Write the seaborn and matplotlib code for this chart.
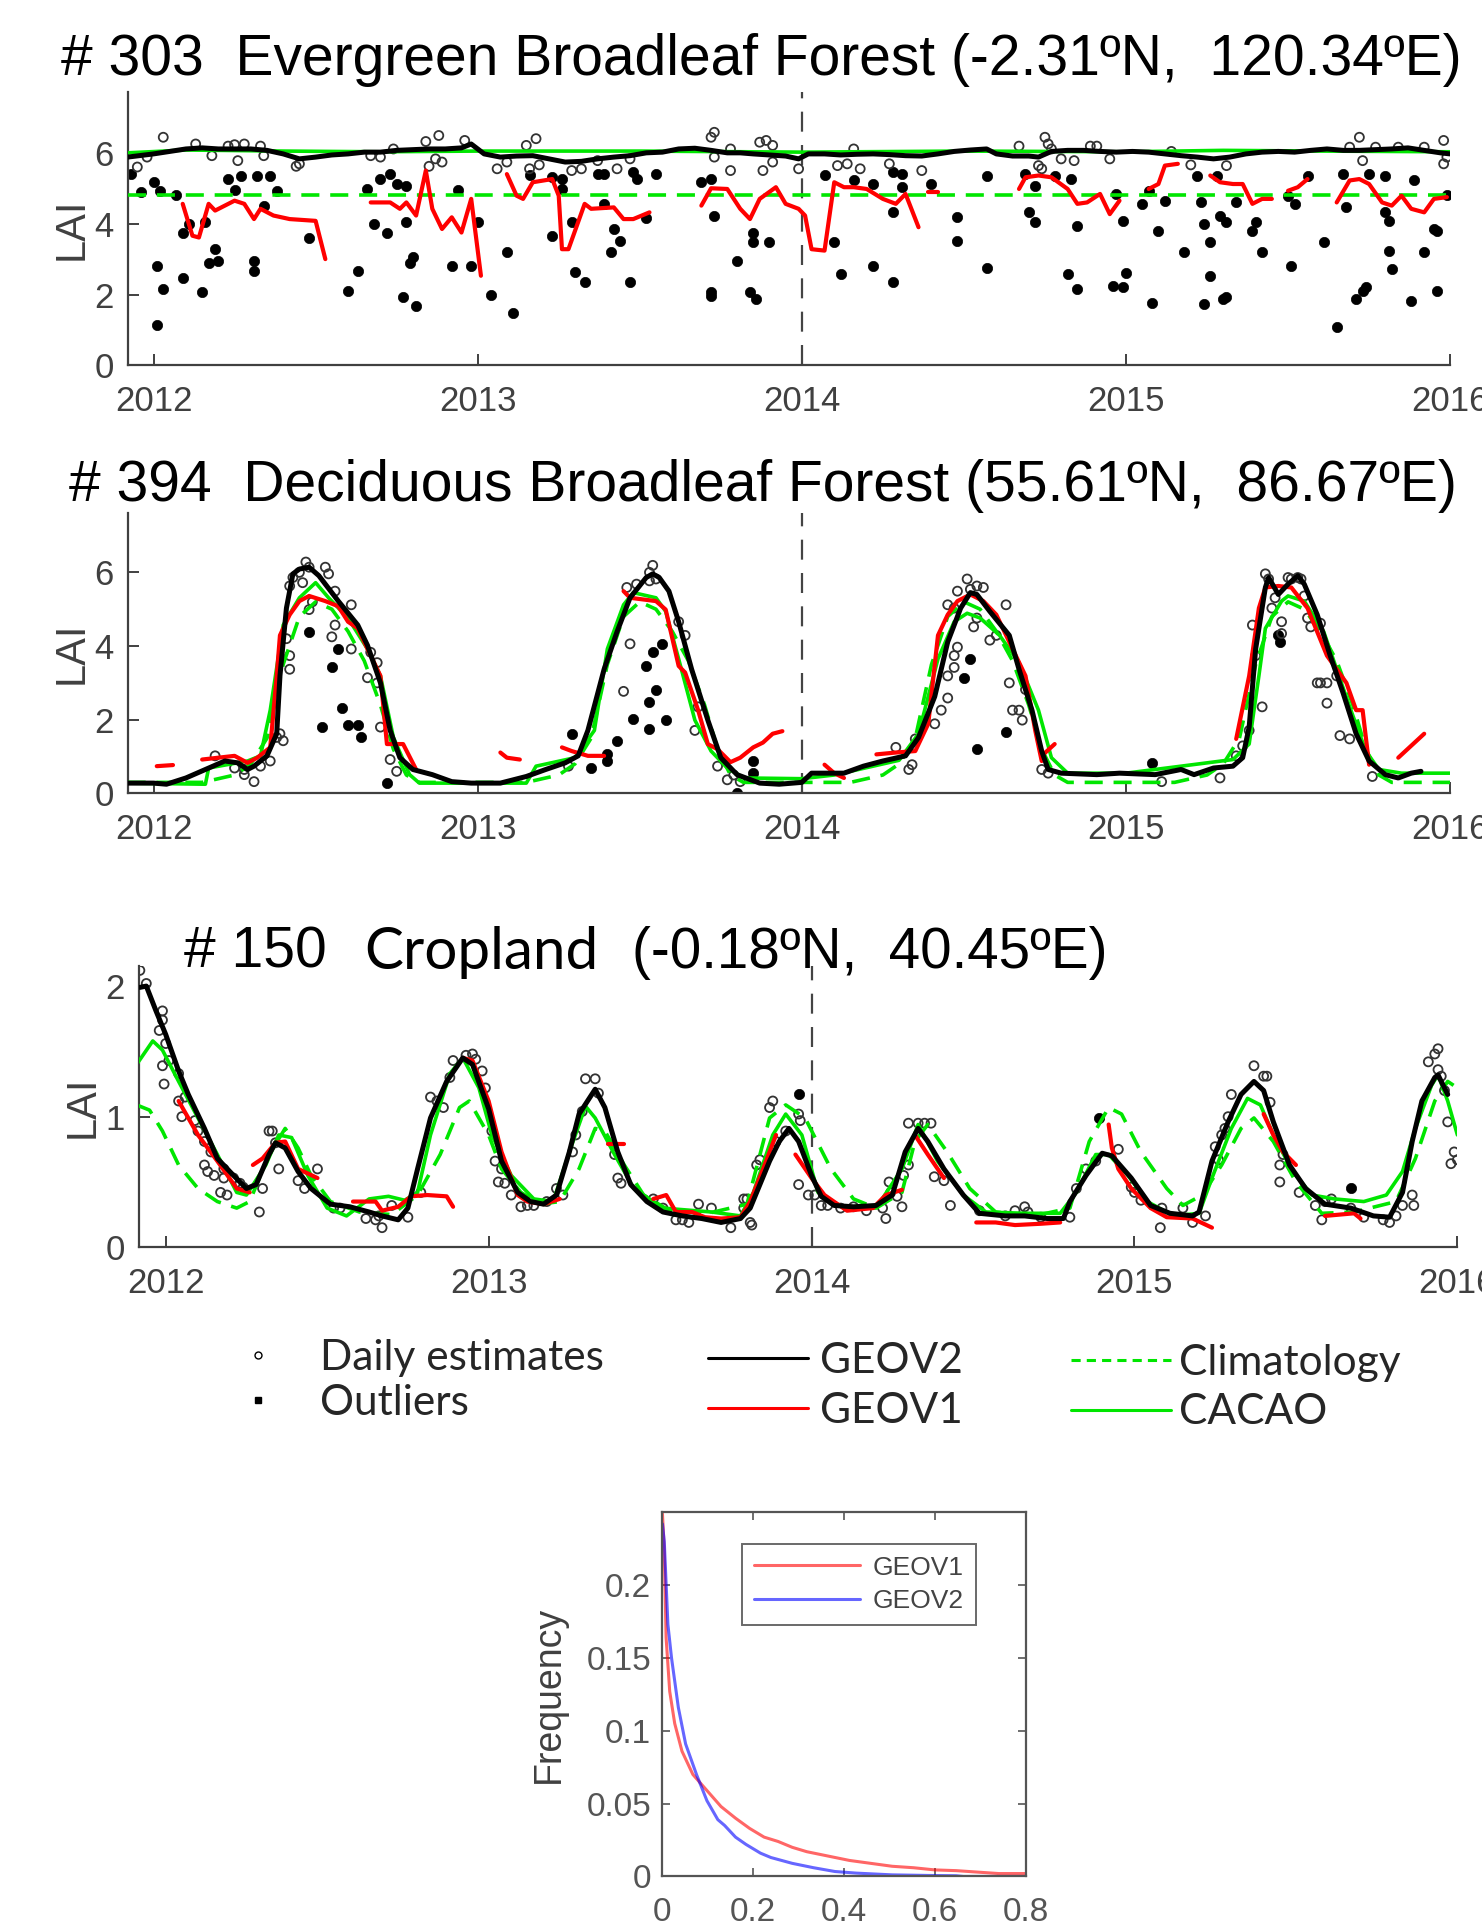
import numpy as np
import pandas as pd
import matplotlib
matplotlib.use("Agg")
import matplotlib.pyplot as plt
import seaborn as sns
from matplotlib.lines import Line2D

# ------------------------------------------------------------------ DATA
years = [2012, 2013, 2014, 2015, 2016]
year_labels = ["2012", "2013", "2014", "2015", "2016"]

# ---------------- Panel 1 : #303 Evergreen Broadleaf Forest
p1_geov2_x = [2011.92, 2012.0, 2012.1, 2012.15, 2012.2, 2012.25, 2012.3, 2012.35, 2012.4, 2012.45,
              2012.5, 2012.55, 2012.6, 2012.65, 2012.7, 2012.75, 2012.8, 2012.85, 2012.9, 2012.95,
              2012.98, 2013.02, 2013.07, 2013.12, 2013.17, 2013.22, 2013.27, 2013.32, 2013.37, 2013.42,
              2013.47, 2013.52, 2013.57, 2013.62, 2013.67, 2013.72, 2013.77, 2013.81, 2013.85, 2013.9,
              2013.95, 2013.99, 2014.02, 2014.07, 2014.12, 2014.17, 2014.22, 2014.27, 2014.32, 2014.37,
              2014.42, 2014.47, 2014.52, 2014.57, 2014.6, 2014.65, 2014.7, 2014.73, 2014.77, 2014.82,
              2014.87, 2014.92, 2014.97, 2015.02, 2015.07, 2015.12, 2015.17, 2015.22, 2015.27, 2015.32,
              2015.37, 2015.42, 2015.47, 2015.52, 2015.57, 2015.62, 2015.67, 2015.72, 2015.77, 2015.82,
              2015.87, 2015.92, 2015.97, 2016.0]
p1_geov2_y = [5.88, 5.97, 6.11, 6.14, 6.11, 6.11, 6.11, 6.07, 5.97, 5.83,
              5.88, 5.94, 5.97, 6.02, 6.02, 6.07, 6.09, 6.11, 6.11, 6.14,
              6.25, 5.97, 5.88, 5.91, 5.92, 5.83, 5.74, 5.76, 5.83, 5.88,
              5.92, 6.0, 6.02, 6.11, 6.13, 6.07, 6.0, 6.0, 5.97, 5.94,
              5.91, 5.83, 5.97, 5.97, 5.94, 5.96, 5.97, 5.95, 5.92, 5.91,
              5.97, 6.04, 6.08, 6.11, 5.97, 5.91, 5.91, 5.88, 6.04, 6.07,
              6.07, 6.04, 6.02, 6.04, 6.02, 5.97, 5.92, 5.88, 5.83, 5.88,
              5.97, 6.02, 6.04, 6.02, 6.07, 6.11, 6.07, 6.07, 6.09, 6.11,
              6.14, 6.07, 6.0, 5.97]
p1_cacao_x = [2011.92, 2012.1, 2012.4, 2012.7, 2013.0, 2013.5, 2014.0, 2014.5, 2015.0, 2015.3, 2015.6, 2016.0]
p1_cacao_y = [6.0, 6.08, 6.05, 6.03, 6.05, 6.05, 6.02, 6.05, 6.03, 6.07, 6.05, 6.03]
p1_clim_x = [2011.92, 2016.0]
p1_clim_y = [4.8, 4.8]
p1_geov1_segs = [
    [(2012.09, 4.56), (2012.12, 3.66), (2012.14, 3.61), (2012.17, 4.56), (2012.19, 4.37), (2012.25, 4.65),
     (2012.28, 4.56), (2012.31, 4.13), (2012.33, 4.42), (2012.37, 4.23), (2012.42, 4.13), (2012.50, 4.08),
     (2012.53, 3.0)],
    [(2012.67, 4.6), (2012.73, 4.6), (2012.76, 4.42), (2012.78, 4.6), (2012.81, 4.23), (2012.84, 5.5),
     (2012.86, 4.42), (2012.89, 3.85), (2012.92, 4.18), (2012.95, 3.75), (2012.98, 4.7), (2013.01, 2.53)],
    [(2013.09, 5.4), (2013.12, 4.79), (2013.14, 4.7), (2013.17, 5.17), (2013.23, 5.26), (2013.25, 4.79),
     (2013.26, 3.28), (2013.28, 3.28), (2013.33, 4.56), (2013.35, 4.42), (2013.42, 4.46), (2013.45, 4.13),
     (2013.48, 4.13), (2013.53, 4.32)],
    [(2013.69, 4.51), (2013.72, 5.0), (2013.77, 4.98), (2013.81, 4.42), (2013.84, 4.13), (2013.87, 4.7),
     (2013.92, 5.03), (2013.95, 4.56), (2013.99, 4.42), (2014.01, 4.23), (2014.03, 3.28), (2014.07, 3.24),
     (2014.10, 5.17), (2014.13, 5.03), (2014.16, 5.03), (2014.20, 4.98), (2014.25, 4.7), (2014.29, 4.56),
     (2014.32, 4.84), (2014.36, 3.9)],
    [(2014.39, 4.89), (2014.42, 4.89)],
    [(2014.67, 4.98), (2014.69, 5.31), (2014.73, 5.36), (2014.77, 5.31), (2014.82, 4.98), (2014.85, 4.56),
     (2014.88, 4.6), (2014.92, 4.84), (2014.95, 4.27), (2014.98, 4.65)],
    [(2015.07, 4.98), (2015.10, 5.12), (2015.12, 5.64), (2015.16, 5.69)],
    [(2015.26, 5.36), (2015.29, 5.17), (2015.33, 5.12), (2015.36, 5.12), (2015.39, 4.56), (2015.42, 4.7),
     (2015.45, 4.7)],
    [(2015.50, 4.93), (2015.53, 5.03), (2015.56, 5.26)],
    [(2015.65, 4.6), (2015.69, 5.22), (2015.72, 5.26), (2015.75, 5.12), (2015.79, 4.6), (2015.82, 4.51),
     (2015.85, 4.79), (2015.88, 4.42), (2015.92, 4.32), (2015.95, 4.7), (2015.99, 4.75)],
]
p1_daily_x = [2011.95, 2011.98, 2012.03, 2012.13, 2012.18, 2012.23, 2012.25, 2012.26, 2012.28, 2012.33,
              2012.34, 2012.44, 2012.45, 2012.67, 2012.70, 2012.74, 2012.84, 2012.88, 2012.85, 2012.87,
              2012.89, 2012.96, 2013.06, 2013.09, 2013.15, 2013.18, 2013.16, 2013.19, 2013.29, 2013.32,
              2013.37, 2013.43, 2013.47, 2013.72, 2013.73, 2013.73, 2013.78, 2013.78, 2013.87, 2013.89,
              2013.91, 2013.91, 2013.88, 2013.99, 2014.11, 2014.14, 2014.16, 2014.18, 2014.27, 2014.37,
              2014.67, 2014.75, 2014.76, 2014.77, 2014.73, 2014.74, 2014.80, 2014.84, 2014.89, 2014.91,
              2014.95, 2015.14, 2015.20, 2015.31, 2015.69, 2015.72, 2015.73, 2015.77, 2015.84, 2015.92,
              2015.98, 2015.98, 2015.99]
p1_daily_y = [5.6, 5.88, 6.44, 6.25, 5.92, 6.19, 6.23, 5.78, 6.25, 6.19,
              5.92, 5.62, 5.69, 5.92, 5.88, 6.11, 6.32, 6.49, 5.62, 5.83,
              5.74, 6.35, 5.55, 5.74, 6.21, 6.4, 5.55, 5.66, 5.5, 5.55,
              5.78, 5.55, 5.83, 6.44, 6.58, 5.88, 5.5, 6.11, 6.3, 6.35,
              6.21, 5.74, 5.5, 5.55, 5.64, 5.69, 6.11, 5.55, 5.69, 5.5,
              6.19, 6.44, 6.25, 6.11, 5.64, 5.55, 5.83, 5.78, 6.19, 6.19,
              5.83, 6.04, 5.66, 5.64, 6.16, 6.44, 5.78, 6.16, 6.16, 6.16,
              6.35, 5.69, 5.88]
p1_out_x = [2011.93, 2011.96, 2012.0, 2012.02, 2012.07, 2012.01, 2012.03, 2012.01, 2012.09, 2012.11,
            2012.09, 2012.15, 2012.16, 2012.17, 2012.19, 2012.20, 2012.23, 2012.25, 2012.27, 2012.31,
            2012.31, 2012.32, 2012.34, 2012.36, 2012.38, 2012.48, 2012.60, 2012.63, 2012.66, 2012.68,
            2012.70, 2012.72, 2012.73, 2012.75, 2012.77, 2012.78, 2012.78, 2012.79, 2012.80, 2012.81,
            2012.92, 2012.94, 2012.98, 2013.0, 2013.04, 2013.09, 2013.11, 2013.16, 2013.23, 2013.23,
            2013.26, 2013.26, 2013.29, 2013.30, 2013.33, 2013.37, 2013.39, 2013.39, 2013.41, 2013.42,
            2013.44, 2013.47, 2013.48, 2013.49, 2013.52, 2013.55, 2013.69, 2013.72, 2013.73, 2013.72,
            2013.72, 2013.80, 2013.85, 2013.85, 2013.90, 2013.84, 2013.86, 2014.07, 2014.10, 2014.12,
            2014.16, 2014.22, 2014.22, 2014.28, 2014.28, 2014.28, 2014.31, 2014.31, 2014.40, 2014.48,
            2014.48, 2014.57, 2014.57, 2014.69, 2014.70, 2014.72, 2014.72, 2014.78, 2014.83, 2014.82,
            2014.85, 2014.85, 2014.96, 2014.97, 2014.99, 2014.99, 2015.0, 2015.05, 2015.07, 2015.08,
            2015.10, 2015.12, 2015.18, 2015.22, 2015.23, 2015.24, 2015.24, 2015.26, 2015.26, 2015.28,
            2015.29, 2015.31, 2015.30, 2015.31, 2015.34, 2015.39, 2015.40, 2015.42, 2015.51, 2015.52,
            2015.50, 2015.56, 2015.61, 2015.65, 2015.67, 2015.68, 2015.71, 2015.74, 2015.73, 2015.75,
            2015.80, 2015.80, 2015.81, 2015.81, 2015.82, 2015.88, 2015.89, 2015.92, 2015.95, 2015.96,
            2015.96, 2015.99]
p1_out_y = [5.41, 4.9, 5.17, 4.93, 4.81, 2.81, 2.17, 1.13, 2.48, 3.99,
            3.75, 2.08, 4.04, 2.9, 3.28, 2.95, 5.26, 4.96, 5.34, 2.95,
            2.67, 5.34, 4.51, 5.34, 4.93, 3.6, 2.1, 2.67, 4.98, 3.99,
            5.26, 3.75, 5.4, 5.12, 1.92, 5.07, 4.04, 2.9, 3.05, 1.68,
            2.81, 4.96, 2.81, 4.04, 2.0, 3.19, 1.49, 5.38, 3.66, 5.31,
            4.98, 5.26, 4.04, 2.64, 2.36, 5.4, 5.4, 4.56, 3.19, 3.85,
            3.52, 2.36, 5.45, 5.26, 4.15, 5.4, 5.17, 5.26, 4.23, 2.06,
            1.96, 2.95, 3.75, 3.47, 3.47, 2.06, 1.87, 5.38, 3.47, 2.58,
            5.22, 2.81, 5.12, 4.32, 2.34, 5.45, 5.4, 5.03, 5.12, 4.18,
            3.52, 5.36, 2.76, 5.4, 4.32, 4.04, 5.07, 5.36, 5.26, 2.58,
            3.94, 2.15, 2.25, 4.84, 4.08, 2.2, 2.62, 4.56, 4.93, 1.77,
            3.8, 4.65, 3.19, 5.36, 4.6, 1.73, 3.99, 2.53, 3.47, 5.36,
            4.23, 4.04, 1.87, 1.92, 4.6, 3.8, 4.04, 3.21, 2.81, 4.56,
            4.79, 5.36, 3.47, 1.07, 5.4, 4.46, 1.87, 2.2, 2.1, 5.4,
            5.36, 4.32, 4.08, 3.24, 2.72, 1.82, 5.22, 3.19, 3.85, 3.8,
            2.1, 4.81]

# ---------------- Panel 2 : #394 Deciduous Broadleaf Forest
p2_geov2_x = [2011.92, 2012.0, 2012.04, 2012.10, 2012.16, 2012.22, 2012.26, 2012.29, 2012.31, 2012.35,
              2012.38, 2012.39, 2012.41, 2012.43, 2012.45, 2012.48, 2012.51, 2012.57, 2012.63, 2012.66,
              2012.70, 2012.73, 2012.76, 2012.80, 2012.86, 2012.92, 2012.98, 2013.07, 2013.15, 2013.21,
              2013.27, 2013.31, 2013.34, 2013.39, 2013.43, 2013.47, 2013.52, 2013.54, 2013.56, 2013.59,
              2013.62, 2013.66, 2013.71, 2013.75, 2013.80, 2013.87, 2013.93, 2014.0, 2014.03, 2014.13,
              2014.19, 2014.25, 2014.32, 2014.36, 2014.41, 2014.45, 2014.49, 2014.52, 2014.54, 2014.58,
              2014.64, 2014.67, 2014.71, 2014.74, 2014.76, 2014.80, 2014.91, 2014.98, 2015.09, 2015.17,
              2015.21, 2015.27, 2015.33, 2015.36, 2015.38, 2015.40, 2015.43, 2015.44, 2015.47, 2015.50,
              2015.53, 2015.55, 2015.59, 2015.63, 2015.67, 2015.71, 2015.75, 2015.80, 2015.84, 2015.88,
              2015.91]
p2_geov2_y = [0.28, 0.28, 0.25, 0.42, 0.65, 0.88, 0.83, 0.65, 0.74, 1.02,
              1.62, 3.19, 5.03, 5.96, 6.09, 6.14, 5.91, 5.22, 4.57, 4.02,
              3.0, 1.71, 0.97, 0.65, 0.51, 0.32, 0.28, 0.28, 0.46, 0.65,
              0.83, 1.02, 1.71, 3.37, 4.39, 5.31, 5.86, 5.96, 5.86, 5.49,
              4.66, 3.37, 1.99, 0.97, 0.51, 0.28, 0.25, 0.30, 0.55, 0.55,
              0.74, 0.88, 1.02, 1.52, 2.63, 4.11, 5.03, 5.45, 5.40, 4.94,
              4.29, 3.37, 2.26, 1.15, 0.65, 0.55, 0.51, 0.55, 0.51, 0.65,
              0.51, 0.69, 0.74, 0.97, 1.80, 3.92, 5.59, 5.86, 5.40, 5.68,
              5.91, 5.68, 4.85, 3.74, 2.72, 1.62, 0.88, 0.51, 0.42, 0.55,
              0.60]
p2_cacao_x = [2011.92, 2012.16, 2012.17, 2012.29, 2012.33, 2012.36, 2012.40, 2012.45, 2012.50, 2012.54,
              2012.60, 2012.66, 2012.70, 2012.74, 2012.79, 2012.82, 2013.15, 2013.18, 2013.30, 2013.36,
              2013.40, 2013.45, 2013.48, 2013.55, 2013.58, 2013.62, 2013.67, 2013.72, 2013.77, 2013.82,
              2014.0, 2014.1, 2014.2, 2014.3, 2014.36, 2014.42, 2014.47, 2014.51, 2014.55, 2014.61,
              2014.67, 2014.73, 2014.77, 2014.82, 2015.0, 2015.17, 2015.33, 2015.38, 2015.41, 2015.43,
              2015.48, 2015.50, 2015.55, 2015.61, 2015.65, 2015.69, 2015.74, 2015.78, 2015.85, 2016.0]
p2_cacao_y = [0.28, 0.25, 0.69, 0.88, 1.02, 2.26, 4.57, 5.31, 5.72, 5.31,
              4.76, 3.92, 3.19, 1.52, 0.51, 0.28, 0.28, 0.74, 0.97, 1.71,
              3.92, 5.12, 5.45, 5.31, 4.94, 3.65, 1.99, 1.15, 0.69, 0.42,
              0.40, 0.50, 0.70, 0.90, 1.62, 3.65, 4.66, 4.89, 4.76, 4.29,
              3.55, 2.26, 0.97, 0.55, 0.55, 0.74, 0.92, 1.34, 3.19, 4.48,
              5.22, 5.36, 5.22, 4.39, 3.37, 2.35, 1.15, 0.65, 0.55, 0.55]
p2_clim_x = [2011.92, 2012.15, 2012.25, 2012.30, 2012.35, 2012.40, 2012.45, 2012.50, 2012.55, 2012.60,
             2012.65, 2012.70, 2012.74, 2012.78, 2012.82, 2013.15, 2013.25, 2013.30, 2013.35, 2013.40,
             2013.45, 2013.50, 2013.55, 2013.60, 2013.65, 2013.70, 2013.74, 2013.78, 2013.82, 2014.15,
             2014.25, 2014.30, 2014.35, 2014.40, 2014.45, 2014.50, 2014.55, 2014.60, 2014.65, 2014.70,
             2014.74, 2014.78, 2014.82, 2015.15, 2015.25, 2015.30, 2015.35, 2015.40, 2015.45, 2015.50,
             2015.55, 2015.60, 2015.65, 2015.70, 2015.74, 2015.78, 2015.82, 2016.0]
p2_clim_y = [0.30, 0.30, 0.50, 0.80, 1.50, 3.50, 4.80, 5.20, 5.00, 4.40,
             3.60, 2.40, 1.20, 0.50, 0.30, 0.30, 0.50, 0.80, 1.50, 3.50,
             4.80, 5.20, 5.00, 4.40, 3.60, 2.40, 1.20, 0.50, 0.30, 0.30,
             0.50, 0.80, 1.50, 3.50, 4.80, 5.20, 5.00, 4.40, 3.60, 2.40,
             1.20, 0.50, 0.30, 0.30, 0.50, 0.80, 1.50, 3.50, 4.80, 5.20,
             5.00, 4.40, 3.60, 2.40, 1.20, 0.50, 0.30, 0.30]
p2_geov1_segs = [
    [(2012.01, 0.74), (2012.06, 0.77)],
    [(2012.15, 0.92), (2012.20, 0.97), (2012.25, 1.02), (2012.29, 0.83), (2012.32, 0.97), (2012.36, 1.25),
     (2012.38, 3.19), (2012.39, 4.29), (2012.42, 4.85), (2012.45, 5.22), (2012.48, 5.36), (2012.53, 5.22),
     (2012.57, 5.08), (2012.60, 4.66), (2012.63, 4.48), (2012.67, 3.74), (2012.70, 3.19), (2012.72, 1.34),
     (2012.77, 1.34), (2012.81, 0.65)],
    [(2013.07, 1.11), (2013.09, 0.97), (2013.13, 0.92)],
    [(2013.26, 1.25), (2013.29, 1.15), (2013.34, 1.02), (2013.39, 1.02)],
    [(2013.45, 5.49), (2013.47, 5.31), (2013.55, 5.22), (2013.58, 4.99), (2013.62, 3.46), (2013.64, 3.28),
     (2013.68, 2.26), (2013.71, 1.34), (2013.74, 1.20), (2013.78, 0.85), (2013.81, 0.97), (2013.85, 1.25),
     (2013.88, 1.38), (2013.91, 1.62), (2013.94, 1.69)],
    [(2014.07, 0.78), (2014.10, 0.55), (2014.13, 0.42)],
    [(2014.23, 1.06), (2014.29, 1.11), (2014.35, 1.15), (2014.39, 1.89), (2014.42, 4.29), (2014.45, 4.85),
     (2014.48, 5.22), (2014.52, 5.40), (2014.56, 5.22), (2014.60, 4.85), (2014.64, 4.11), (2014.69, 3.19),
     (2014.72, 1.71), (2014.74, 0.88)],
    [(2014.75, 1.10), (2014.78, 1.34)],
    [(2015.34, 1.48), (2015.38, 3.19), (2015.41, 5.03), (2015.43, 5.59), (2015.47, 5.63), (2015.51, 5.59),
     (2015.56, 5.03), (2015.62, 3.74), (2015.68, 3.0), (2015.71, 2.26), (2015.73, 2.26), (2015.75, 0.78)],
    [(2015.84, 0.97), (2015.92, 1.62)],
]
p2_daily_x = [2012.19, 2012.25, 2012.28, 2012.28, 2012.31, 2012.33, 2012.36, 2012.38, 2012.40, 2012.39,
              2012.42, 2012.42, 2012.41, 2012.42, 2012.43, 2012.45, 2012.47, 2012.48, 2012.46, 2012.48,
              2012.49, 2012.53, 2012.54, 2012.56, 2012.55, 2012.56, 2012.61, 2012.61, 2012.67, 2012.69,
              2012.66, 2012.69, 2012.70, 2012.73, 2012.75, 2013.28, 2013.45, 2013.47, 2013.46, 2013.49,
              2013.53, 2013.54, 2013.53, 2013.55, 2013.62, 2013.64, 2013.67, 2013.68, 2013.74, 2013.77,
              2013.79, 2013.81, 2014.33, 2014.34, 2014.29, 2014.35, 2014.41, 2014.43, 2014.45, 2014.45,
              2014.47, 2014.47, 2014.48, 2014.45, 2014.47, 2014.48, 2014.51, 2014.52, 2014.54, 2014.56,
              2014.53, 2014.54, 2014.58, 2014.63, 2014.60, 2014.64, 2014.65, 2014.67, 2014.68, 2014.69,
              2014.74, 2014.76, 2015.11, 2015.29, 2015.34, 2015.36, 2015.38, 2015.39, 2015.40, 2015.42,
              2015.43, 2015.44, 2015.45, 2015.46, 2015.48, 2015.48, 2015.50, 2015.51, 2015.53, 2015.54,
              2015.55, 2015.56, 2015.57, 2015.59, 2015.60, 2015.62, 2015.62, 2015.60, 2015.65, 2015.66,
              2015.69, 2015.76]
p2_daily_y = [1.02, 0.69, 0.51, 0.65, 0.32, 0.74, 0.88, 1.52, 1.43, 1.62,
              3.37, 3.74, 4.20, 5.63, 5.86, 6.00, 6.28, 6.14, 5.72, 4.99,
              5.20, 6.14, 5.96, 5.49, 4.25, 4.57, 5.12, 3.92, 3.83, 3.55,
              3.14, 3.00, 1.80, 0.92, 0.60, 0.74, 2.77, 4.06, 5.59, 5.68,
              6.00, 6.19, 5.77, 5.82, 4.66, 4.29, 1.71, 2.35, 0.74, 0.37,
              0.50, 0.32, 0.65, 0.78, 1.25, 1.48, 1.89, 2.26, 2.59, 3.19,
              3.42, 3.74, 3.97, 5.12, 5.03, 5.49, 5.82, 5.54, 5.63, 5.59,
              4.52, 4.76, 4.16, 5.12, 4.29, 3.00, 2.26, 2.26, 1.99, 2.82,
              0.65, 0.55, 0.32, 0.42, 1.02, 1.29, 1.71, 4.57, 3.74, 2.35,
              5.96, 5.82, 5.03, 5.31, 4.66, 4.34, 5.86, 5.82, 5.86, 5.82,
              5.36, 4.76, 4.52, 3.00, 3.00, 3.00, 2.45, 4.62, 3.19, 1.57,
              1.48, 0.46]
p2_out_x = [2012.48, 2012.55, 2012.57, 2012.58, 2012.60, 2012.63, 2012.64, 2012.52, 2012.72, 2013.29,
            2013.35, 2013.40, 2013.40, 2013.43, 2013.48, 2013.52, 2013.53, 2013.53, 2013.55, 2013.54,
            2013.57, 2013.58, 2013.80, 2013.85, 2013.85, 2014.52, 2014.50, 2014.63, 2014.54, 2015.08,
            2015.47, 2015.475]
p2_out_y = [4.39, 3.42, 3.92, 2.31, 1.85, 1.85, 1.52, 1.80, 0.28, 1.62,
            0.69, 0.88, 1.06, 1.43, 2.03, 3.46, 1.75, 2.49, 2.82, 3.83,
            4.06, 1.99, 0.02, 0.88, 0.55, 3.65, 3.14, 1.66, 1.20, 0.83,
            4.29, 4.11]

# ---------------- Panel 3 : #150 Cropland
p3_geov2_x = [2011.92, 2011.94, 2011.97, 2012.0, 2012.04, 2012.07, 2012.12, 2012.16, 2012.21, 2012.25,
              2012.28, 2012.32, 2012.34, 2012.37, 2012.41, 2012.45, 2012.51, 2012.57, 2012.63, 2012.67,
              2012.72, 2012.75, 2012.78, 2012.82, 2012.87, 2012.92, 2012.95, 2013.0, 2013.04, 2013.09,
              2013.13, 2013.17, 2013.21, 2013.25, 2013.28, 2013.33, 2013.36, 2013.40, 2013.44, 2013.49,
              2013.54, 2013.60, 2013.66, 2013.72, 2013.78, 2013.81, 2013.87, 2013.90, 2013.93, 2013.96,
              2014.0, 2014.03, 2014.07, 2014.13, 2014.20, 2014.25, 2014.29, 2014.33, 2014.36, 2014.41,
              2014.47, 2014.52, 2014.60, 2014.66, 2014.73, 2014.78, 2014.80, 2014.85, 2014.90, 2014.93,
              2014.99, 2015.05, 2015.11, 2015.18, 2015.20, 2015.24, 2015.29, 2015.33, 2015.37, 2015.40,
              2015.43, 2015.48, 2015.53, 2015.59, 2015.67, 2015.74, 2015.79, 2015.83, 2015.86, 2015.89,
              2015.93, 2015.94, 2015.97]
p3_geov2_y = [1.99, 2.0, 1.81, 1.63, 1.35, 1.17, 0.91, 0.68, 0.55, 0.45,
              0.48, 0.71, 0.80, 0.76, 0.58, 0.45, 0.33, 0.31, 0.27, 0.24,
              0.21, 0.30, 0.60, 0.99, 1.27, 1.45, 1.40, 1.06, 0.66, 0.42,
              0.35, 0.33, 0.40, 0.73, 1.02, 1.21, 1.07, 0.73, 0.48, 0.35,
              0.27, 0.24, 0.22, 0.19, 0.22, 0.30, 0.66, 0.81, 0.91, 0.81,
              0.55, 0.39, 0.32, 0.31, 0.32, 0.40, 0.73, 0.91, 0.81, 0.60,
              0.40, 0.26, 0.24, 0.24, 0.22, 0.22, 0.35, 0.55, 0.72, 0.70,
              0.53, 0.32, 0.26, 0.24, 0.27, 0.66, 0.96, 1.17, 1.27, 1.20,
              0.96, 0.63, 0.45, 0.33, 0.30, 0.24, 0.23, 0.42, 0.81, 1.12,
              1.30, 1.32, 1.17]
p3_cacao_x = [2011.91, 2011.96, 2011.99, 2012.04, 2012.10, 2012.16, 2012.22, 2012.25, 2012.31, 2012.35,
              2012.39, 2012.44, 2012.50, 2012.56, 2012.63, 2012.69, 2012.74, 2012.78, 2012.82, 2012.88,
              2012.92, 2012.97, 2013.01, 2013.07, 2013.14, 2013.20, 2013.25, 2013.30, 2013.33, 2013.39,
              2013.45, 2013.54, 2013.69, 2013.78, 2013.82, 2013.88, 2013.92, 2013.97, 2014.02, 2014.10,
              2014.20, 2014.28, 2014.33, 2014.39, 2014.47, 2014.54, 2014.66, 2014.77, 2014.82, 2014.88,
              2014.92, 2014.98, 2015.04, 2015.12, 2015.20, 2015.24, 2015.30, 2015.35, 2015.39, 2015.43,
              2015.49, 2015.55, 2015.62, 2015.71, 2015.78, 2015.83, 2015.87, 2015.92, 2015.94, 2015.97,
              2016.0]
p3_cacao_y = [1.40, 1.58, 1.51, 1.27, 0.99, 0.71, 0.42, 0.40, 0.63, 0.86,
              0.84, 0.55, 0.30, 0.24, 0.37, 0.39, 0.36, 0.42, 0.86, 1.33,
              1.45, 1.22, 0.86, 0.55, 0.37, 0.35, 0.73, 1.08, 0.99, 0.71,
              0.45, 0.30, 0.27, 0.24, 0.42, 0.86, 1.02, 0.86, 0.42, 0.30,
              0.30, 0.60, 0.94, 0.66, 0.40, 0.27, 0.26, 0.26, 0.42, 0.71,
              0.71, 0.55, 0.35, 0.24, 0.26, 0.53, 0.91, 1.14, 1.09, 0.86,
              0.58, 0.40, 0.37, 0.35, 0.40, 0.58, 0.91, 1.24, 1.32, 1.12,
              0.86]
p3_clim_x = [2011.91, 2011.95, 2011.99, 2012.04, 2012.10, 2012.16, 2012.22, 2012.26, 2012.32, 2012.37,
             2012.41, 2012.45, 2012.51, 2012.60, 2012.70, 2012.78, 2012.85, 2012.91, 2012.94, 2013.0,
             2013.04, 2013.10, 2013.16, 2013.22, 2013.28, 2013.33, 2013.36, 2013.42, 2013.48, 2013.56,
             2013.68, 2013.80, 2013.87, 2013.92, 2013.98, 2014.06, 2014.13, 2014.20, 2014.28, 2014.32,
             2014.36, 2014.42, 2014.49, 2014.57, 2014.69, 2014.80, 2014.86, 2014.92, 2014.96, 2015.02,
             2015.10, 2015.15, 2015.21, 2015.27, 2015.33, 2015.37, 2015.43, 2015.50, 2015.58, 2015.68,
             2015.81, 2015.87, 2015.93, 2015.97, 2016.0]
p3_clim_y = [1.09, 1.05, 0.89, 0.63, 0.45, 0.35, 0.30, 0.35, 0.71, 0.91,
             0.76, 0.55, 0.35, 0.27, 0.25, 0.40, 0.71, 1.07, 1.12, 0.86,
             0.60, 0.42, 0.33, 0.35, 0.60, 0.91, 0.89, 0.63, 0.40, 0.28,
             0.26, 0.33, 0.99, 1.09, 0.99, 0.60, 0.37, 0.30, 0.42, 0.81,
             0.94, 0.73, 0.45, 0.27, 0.24, 0.30, 0.81, 1.07, 1.02, 0.73,
             0.45, 0.32, 0.40, 0.63, 0.91, 0.99, 0.81, 0.50, 0.26, 0.27,
             0.35, 0.68, 1.12, 1.27, 1.22]
p3_geov1_segs = [
    [(2012.04, 1.12), (2012.10, 0.86), (2012.16, 0.66), (2012.22, 0.45), (2012.26, 0.42)],
    [(2012.27, 0.63), (2012.30, 0.68), (2012.34, 0.80), (2012.37, 0.81), (2012.41, 0.60), (2012.47, 0.53)],
    [(2012.58, 0.35), (2012.65, 0.35), (2012.67, 0.28), (2012.72, 0.31), (2012.76, 0.39), (2012.81, 0.40),
     (2012.87, 0.39), (2012.89, 0.31)],
    [(2012.92, 1.45), (2012.95, 1.43), (2013.0, 1.12), (2013.04, 0.73), (2013.09, 0.40), (2013.12, 0.35),
     (2013.17, 0.33), (2013.22, 0.37)],
    [(2013.37, 0.79), (2013.42, 0.79)],
    [(2013.51, 0.37), (2013.55, 0.40), (2013.58, 0.27), (2013.63, 0.27), (2013.67, 0.23), (2013.72, 0.22),
     (2013.78, 0.23), (2013.81, 0.35), (2013.85, 0.60), (2013.89, 0.86)],
    [(2013.95, 0.71), (2014.0, 0.53), (2014.04, 0.40), (2014.11, 0.28), (2014.19, 0.30), (2014.23, 0.40),
     (2014.28, 0.44)],
    [(2014.32, 0.86), (2014.36, 0.71), (2014.41, 0.53)],
    [(2014.51, 0.19), (2014.57, 0.19), (2014.63, 0.17), (2014.71, 0.18), (2014.77, 0.19)],
    [(2014.92, 0.94), (2014.93, 0.76), (2014.95, 0.60), (2014.99, 0.45), (2015.05, 0.30), (2015.10, 0.23),
     (2015.18, 0.22), (2015.24, 0.15)],
    [(2015.40, 1.02), (2015.43, 0.86), (2015.46, 0.73), (2015.50, 0.63)],
    [(2015.59, 0.24), (2015.68, 0.26), (2015.70, 0.22)],
]
p3_daily_x = [2011.92, 2011.94, 2011.99, 2011.99, 2011.98, 2012.0, 2011.99, 2011.995, 2012.01, 2012.04,
              2012.04, 2012.05, 2012.06, 2012.09, 2012.10, 2012.12, 2012.14, 2012.12, 2012.13, 2012.15,
              2012.18, 2012.18, 2012.21, 2012.17, 2012.19, 2012.23, 2012.24, 2012.29, 2012.30, 2012.32,
              2012.33, 2012.34, 2012.35, 2012.41, 2012.43, 2012.47, 2012.52, 2012.54, 2012.62, 2012.65,
              2012.67, 2012.66, 2012.70, 2012.75, 2012.79, 2012.82, 2012.84, 2012.86, 2012.88, 2012.89,
              2012.93, 2012.95, 2012.96, 2012.98, 2012.99, 2013.01, 2013.02, 2013.03, 2013.05, 2013.04,
              2013.07, 2013.10, 2013.12, 2013.14, 2013.18, 2013.21, 2013.23, 2013.26, 2013.27, 2013.29,
              2013.30, 2013.33, 2013.34, 2013.39, 2013.40, 2013.41, 2013.51, 2013.54, 2013.58, 2013.60,
              2013.62, 2013.65, 2013.69, 2013.75, 2013.79, 2013.79, 2013.80, 2013.81, 2013.815, 2013.83,
              2013.84, 2013.87, 2013.88, 2013.89, 2013.92, 2013.96, 2013.965, 2013.96, 2013.99, 2014.01,
              2014.03, 2014.05, 2014.09, 2014.13, 2014.17, 2014.22, 2014.23, 2014.24, 2014.245, 2014.28,
              2014.265, 2014.285, 2014.30, 2014.33, 2014.35, 2014.37, 2014.30, 2014.38, 2014.41, 2014.43,
              2014.52, 2014.60, 2014.63, 2014.66, 2014.67, 2014.71, 2014.80, 2014.82, 2014.85, 2014.88,
              2014.95, 2014.99, 2015.0, 2015.02, 2015.08, 2015.085, 2015.15, 2015.18, 2015.22, 2015.25,
              2015.26, 2015.27, 2015.28, 2015.30, 2015.29, 2015.37, 2015.40, 2015.41, 2015.42, 2015.45,
              2015.46, 2015.45, 2015.51, 2015.56, 2015.59, 2015.58, 2015.61, 2015.67, 2015.71, 2015.77,
              2015.79, 2015.81, 2015.83, 2015.86, 2015.865, 2015.91, 2015.93, 2015.94, 2015.94, 2015.95,
              2015.96, 2015.97, 2015.99, 2016.0, 2015.98]
p3_daily_y = [2.12, 2.02, 1.81, 1.74, 1.66, 1.56, 1.39, 1.25, 1.43, 1.33,
              1.12, 1.00, 1.15, 0.97, 0.89, 0.81, 0.73, 0.63, 0.58, 0.55,
              0.60, 0.53, 0.53, 0.42, 0.40, 0.49, 0.46, 0.27, 0.45, 0.89,
              0.89, 0.80, 0.60, 0.51, 0.45, 0.60, 0.30, 0.30, 0.22, 0.21,
              0.15, 0.24, 0.32, 0.23, 0.42, 1.15, 1.12, 1.07, 1.30, 1.43,
              1.47, 1.48, 1.44, 1.35, 1.22, 0.89, 0.66, 0.50, 0.49, 0.60,
              0.40, 0.31, 0.32, 0.32, 0.35, 0.45, 0.40, 0.73, 0.86, 1.04,
              1.29, 1.29, 1.18, 0.71, 0.53, 0.49, 0.37, 0.30, 0.21, 0.21,
              0.19, 0.33, 0.30, 0.15, 0.37, 0.30, 0.37, 0.19, 0.17, 0.63,
              0.67, 1.07, 1.12, 0.81, 0.89, 1.02, 0.97, 0.48, 0.40, 0.40,
              0.32, 0.32, 0.30, 0.31, 0.28, 0.30, 0.22, 0.50, 0.42, 0.31,
              0.39, 0.55, 0.95, 0.95, 0.95, 0.95, 0.63, 0.54, 0.51, 0.32,
              0.28, 0.24, 0.28, 0.31, 0.27, 0.23, 0.23, 0.45, 0.60, 0.66,
              0.75, 0.46, 0.42, 0.36, 0.15, 0.30, 0.30, 0.19, 0.24, 0.77,
              0.67, 0.86, 0.91, 1.17, 1.00, 1.39, 1.31, 1.31, 1.11, 0.63,
              0.71, 0.50, 0.42, 0.32, 0.35, 0.21, 0.37, 0.30, 0.23, 0.21,
              0.19, 0.24, 0.32, 0.40, 0.32, 1.42, 1.48, 1.52, 1.36, 1.31,
              1.20, 0.96, 0.73, 0.67, 0.64]
p3_out_x = [2013.96, 2014.89, 2015.67]
p3_out_y = [1.17, 0.99, 0.45]

# ---------------- Histogram of differences
h_geov1_x = [0.0, 0.004, 0.008, 0.016, 0.027, 0.043, 0.067, 0.098, 0.129, 0.161, 0.192, 0.224, 0.255,
             0.286, 0.318, 0.365, 0.412, 0.459, 0.506, 0.553, 0.60, 0.647, 0.694, 0.741, 0.8]
h_geov1_y = [0.249, 0.224, 0.164, 0.127, 0.105, 0.086, 0.070, 0.059, 0.048, 0.040, 0.033, 0.027, 0.024,
             0.020, 0.017, 0.014, 0.011, 0.009, 0.007, 0.006, 0.0045, 0.004, 0.003, 0.002, 0.002]
h_geov2_x = [0.0, 0.004, 0.012, 0.020, 0.035, 0.051, 0.075, 0.098, 0.122, 0.137, 0.161, 0.184, 0.216,
             0.239, 0.286, 0.333, 0.380, 0.427, 0.506, 0.584, 0.647, 0.663, 0.8]
h_geov2_y = [0.242, 0.230, 0.173, 0.150, 0.116, 0.091, 0.070, 0.052, 0.039, 0.035, 0.027, 0.022, 0.016,
             0.013, 0.009, 0.006, 0.0034, 0.0023, 0.0011, 0.0007, 0.0005, 0.0, 0.0]

# ------------------------------------------------------------------ STYLE
sns.set_theme(style="white")
plt.rcParams["font.family"] = ["Liberation Sans", "DejaVu Sans"]

GREEN = "#00e600"
AX_COL = "#404040"
fig = plt.figure(figsize=(14.82, 19.23), dpi=100)


def segs_df(segs):
    rows = []
    for i, seg in enumerate(segs):
        for x, y in seg:
            rows.append((i, x, y))
    return pd.DataFrame(rows, columns=["seg", "x", "y"])


def lai_panel(rect, xlim, ylim, yticks, daily, outl, clim, cacao, geov1, geov2):
    ax = fig.add_axes(rect)
    sns.scatterplot(x=outl[0], y=outl[1], ax=ax, marker="o", s=55, color="black",
                    edgecolor="black", linewidth=0.5, zorder=2)
    sns.scatterplot(x=daily[0], y=daily[1], ax=ax, marker="o", s=42, facecolors="none",
                    edgecolor="#333333", linewidth=1.3, zorder=2)
    sns.lineplot(x=clim[0], y=clim[1], ax=ax, color=GREEN, linewidth=2.6, linestyle=(0, (5, 3)),
                 estimator=None, sort=False, zorder=3)
    sns.lineplot(x=cacao[0], y=cacao[1], ax=ax, color=GREEN, linewidth=2.6,
                 estimator=None, sort=False, zorder=4)
    d1 = segs_df(geov1)
    sns.lineplot(data=d1, x="x", y="y", units="seg", ax=ax, color="#ff0000", linewidth=3.0,
                 estimator=None, sort=False, zorder=5)
    sns.lineplot(x=geov2[0], y=geov2[1], ax=ax, color="black", linewidth=3.6,
                 estimator=None, sort=False, zorder=6)
    ax.axvline(2014, color="#444444", linewidth=1.6, linestyle=(0, (9, 6)), zorder=1)
    ax.set_xlim(*xlim)
    ax.set_ylim(*ylim)
    ax.set_xticks(years)
    ax.set_xticklabels(year_labels)
    ax.set_yticks(yticks)
    ax.set_yticklabels([str(t) for t in yticks])
    ax.set_xlabel("")
    ax.set_ylabel("LAI", fontsize=30, color=AX_COL, labelpad=2)
    sns.despine(ax=ax)
    for s in ["left", "bottom"]:
        ax.spines[s].set_color(AX_COL)
        ax.spines[s].set_linewidth(1.6)
    ax.tick_params(direction="in", length=8, width=1.4, colors=AX_COL, labelsize=25, pad=10,
                   left=True, bottom=True)
    ax.tick_params(axis="x", pad=14)
    ax.grid(False)
    return ax


ax1 = lai_panel([0.0861, 0.8100, 0.8924, 0.1422], (2011.92, 2016.0), (0, 7.72), [0, 2, 4, 6],
                (p1_daily_x, p1_daily_y), (p1_out_x, p1_out_y), (p1_clim_x, p1_clim_y),
                (p1_cacao_x, p1_cacao_y), p1_geov1_segs, (p1_geov2_x, p1_geov2_y))
ax2 = lai_panel([0.0861, 0.5874, 0.8924, 0.1460], (2011.92, 2016.0), (0, 7.62), [0, 2, 4, 6],
                (p2_daily_x, p2_daily_y), (p2_out_x, p2_out_y), (p2_clim_x, p2_clim_y),
                (p2_cacao_x, p2_cacao_y), p2_geov1_segs, (p2_geov2_x, p2_geov2_y))
ax3 = lai_panel([0.0935, 0.3514, 0.8899, 0.1460], (2011.916, 2016.0), (0, 2.15), [0, 1, 2],
                (p3_daily_x, p3_daily_y), (p3_out_x, p3_out_y), (p3_clim_x, p3_clim_y),
                (p3_cacao_x, p3_cacao_y), p3_geov1_segs, (p3_geov2_x, p3_geov2_y))

# titles
fig.text(0.514, 0.969, "# 303  Evergreen Broadleaf Forest (-2.31ºN,  120.34ºE)",
         ha="center", va="center", fontsize=41, color="black")
fig.text(0.515, 0.7475, "# 394  Deciduous Broadleaf Forest (55.61ºN,  86.67ºE)",
         ha="center", va="center", fontsize=41, color="black")
fig.text(0.124, 0.5045, "# 150", ha="left", va="center", fontsize=41, color="black")
fig.text(0.2459, 0.5045, "Cropland", ha="left", va="center", fontsize=42, color="black",
         family=["Lato", "DejaVu Sans"])
fig.text(0.4263, 0.5045, "(-0.18ºN,  40.45ºE)", ha="left", va="center", fontsize=40.8, color="black")

# legends
leg_font = {"family": ["Lato", "DejaVu Sans"], "size": 30.5}
h1 = [Line2D([], [], ls="none", marker="o", mfc="none", mec="black", ms=5, mew=1.0),
      Line2D([], [], ls="none", marker="s", mfc="black", mec="black", ms=5)]
fig.legend(h1, ["Daily estimates", "Outliers"], loc="center left", bbox_to_anchor=(0.1596, 0.2823),
           frameon=False, prop=leg_font, borderpad=0, borderaxespad=0, handlelength=1.0,
           handletextpad=0.97, labelspacing=0.17)
h2 = [Line2D([], [], color="black", lw=2.2), Line2D([], [], color="#ff0000", lw=2.2)]
fig.legend(h2, ["GEOV2", "GEOV1"], loc="center left", bbox_to_anchor=(0.478, 0.2792),
           frameon=False, prop=leg_font, borderpad=0, borderaxespad=0, handlelength=2.36,
           handletextpad=0.27, labelspacing=0.28)
h3 = [Line2D([], [], color=GREEN, lw=2.2, ls=(0, (3, 2))), Line2D([], [], color=GREEN, lw=2.2)]
fig.legend(h3, ["Climatology", "CACAO"], loc="center left", bbox_to_anchor=(0.7227, 0.2785),
           frameon=False, prop=leg_font, borderpad=0, borderaxespad=0, handlelength=2.36,
           handletextpad=0.18, labelspacing=0.28)

# histogram panel
axh = fig.add_axes([0.4470, 0.0242, 0.2450, 0.1894])
sns.lineplot(x=h_geov1_x, y=h_geov1_y, ax=axh, color="#ff0000", alpha=0.6, linewidth=2.2,
             estimator=None, sort=False, label="GEOV1")
sns.lineplot(x=h_geov2_x, y=h_geov2_y, ax=axh, color="#0000ff", alpha=0.6, linewidth=2.2,
             estimator=None, sort=False, label="GEOV2")
axh.set_xlim(0, 0.8)
axh.set_ylim(0, 0.25)
axh.set_xticks([0, 0.2, 0.4, 0.6, 0.8])
axh.set_xticklabels(["0", "0.2", "0.4", "0.6", "0.8"])
axh.set_yticks([0, 0.05, 0.1, 0.15, 0.2])
axh.set_yticklabels(["0", "0.05", "0.1", "0.15", "0.2"])
axh.set_ylabel("Frequency", fontsize=27, color=AX_COL, labelpad=14)
axh.set_xlabel("")
for s in axh.spines.values():
    s.set_color("#555555")
    s.set_linewidth(1.6)
axh.tick_params(direction="in", length=6, width=1.2, colors="#555555", labelsize=24, pad=8,
                top=True, right=True, left=True, bottom=True)
axh.tick_params(axis="x", pad=15)
axh.grid(False)
lg = axh.legend(loc="upper right", bbox_to_anchor=(0.90, 0.95), frameon=True, fancybox=False,
                edgecolor="#444444", prop={"size": 19}, handlelength=4.0, handletextpad=0.5,
                labelspacing=0.35, borderpad=0.45)
lg.get_frame().set_linewidth(1.4)
for t in lg.get_texts():
    t.set_color("#444444")

fig.savefig("out.png", dpi=100)
